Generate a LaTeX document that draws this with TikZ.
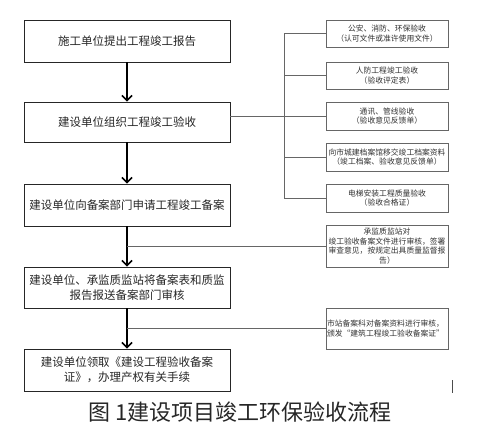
\documentclass[tikz,border=0pt]{standalone}
\usepackage{fontspec}
\setmainfont{Noto Sans CJK SC}
\usetikzlibrary{arrows.meta}

\begin{document}
\begin{tikzpicture}[x=1pt, y=-1pt,
    mainbox/.style={draw=black!85, line width=0.9pt, minimum width=206pt, inner sep=0pt,
        align=center, text=black!85, font=\fontsize{11.5}{15}\selectfont},
    sidebox/.style={draw=black!60, line width=0.7pt, minimum width=122pt, inner sep=0pt,
        align=center, text=black!80, font=\fontsize{7.8}{9.5}\selectfont},
    flow/.style={line width=1.6pt, -{Straight Barb[length=5pt,width=10pt,line width=1.6pt]}},
    link/.style={draw=black!60, line width=0.7pt}]
    \useasboundingbox (0,0) rectangle (498,444);
    \fill[white] (0,0) rectangle (498,444);

    % Left column: main steps
    \node[mainbox, minimum height=42pt] (b1) at (127,41) {施工单位提出工程竣工报告};
    \node[mainbox, minimum height=40pt] (b2) at (127,122) {建设单位组织工程竣工验收};
    \node[mainbox, minimum height=42pt] (b3) at (127,205) {建设单位向备案部门申请工程竣工备案};
    \node[mainbox, minimum height=41pt] (b4) at (127,287.5) {建设单位、承监质监站将备案表和质监\\报告报送备案部门审核};
    \node[mainbox, minimum height=42pt] (b5) at (127,370) {建设单位领取《建设工程验收备案\\证》，办理产权有关手续};
    \draw[flow] (b1) -- (b2);
    \draw[flow] (b2) -- (b3);
    \draw[flow] (b3) -- (b4);
    \draw[flow] (b4) -- (b5);

    % Right column: related checks
    \node[sidebox, minimum height=27pt] (r1) at (387,33.5) {公安、消防、环保验收\\（认可文件或准许使用文件）};
    \node[sidebox, minimum height=27pt] (r2) at (387,75.5) {人防工程竣工验收\\（验收评定表）};
    \node[sidebox, minimum height=28pt] (r3) at (387,116) {通讯、管线验收\\（验收意见反馈单）};
    \node[sidebox, minimum height=28pt] (r4) at (387,157) {向市城建档案馆移交竣工档案资料\\（竣工档案、验收意见反馈单）};
    \node[sidebox, minimum height=28pt] (r5) at (387,198) {电梯安装工程质量验收\\（验收合格证）};
    \node[sidebox, minimum height=42pt] (r6) at (387,246) {承监质监站对\\竣工验收备案文件进行审核，签署\\审查意见，按规定出具质量监督报\\告）};
    \node[sidebox, minimum height=41pt, text width=120pt, align=left] (r7) at (387,328.5) {市站备案科对备案资料进行审核，\\颁发“建筑工程竣工验收备案证”};

    % Bracket from step 2
    \coordinate (brk) at (284,0);
    \draw[link] (r1.west) -- (r1.west -| brk) -- (r5.west -| brk) -- (r5.west);
    \foreach \r in {r2,r3,r4}
        \draw[link] (\r.west -| brk) -- (\r.west);
    \draw[link] (b2.east |- r3.west) -- (r3.west -| brk);
    \draw[link] (b3.south |- r6.west) -- (r6.west);
    \draw[link] (b4.south |- r7.west) -- (r7.west);

    % Caption
    \node[text=black!85, font=\fontsize{22}{22}\selectfont] (cap) at (240,412) {图 1建设项目竣工环保验收流程};
    \draw[black!70, line width=0.8pt] (452,380) -- (452,393);
\end{tikzpicture}
\end{document}
